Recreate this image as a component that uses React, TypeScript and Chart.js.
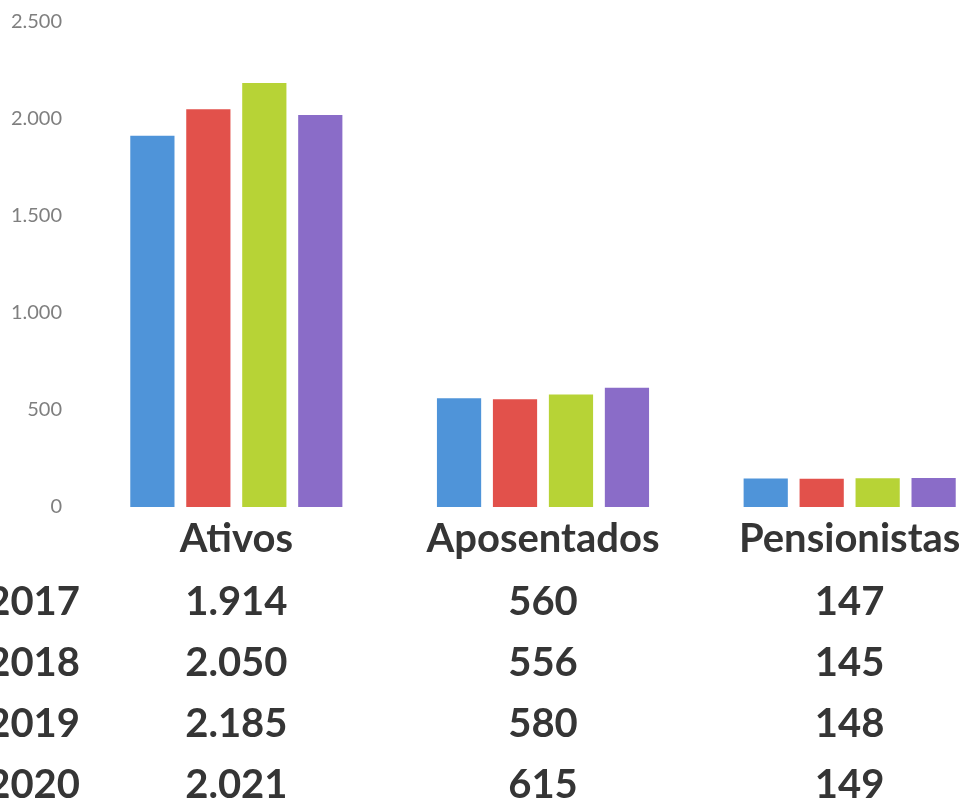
import React, { useEffect, useRef } from "react";
import { Chart, registerables } from "chart.js";

Chart.register(...registerables);

const categories = ["Ativos", "Aposentados", "Pensionistas"];
const years = ["2017", "2018", "2019", "2020"];
const values2017 = [1914, 560, 147];
const values2018 = [2050, 556, 145];
const values2019 = [2185, 580, 148];
const values2020 = [2021, 615, 149];
const seriesValues = [values2017, values2018, values2019, values2020];
const seriesColors = ["#4F94D9", "#E2514B", "#B7D336", "#8A6CC8"];
const yTicks = [0, 500, 1000, 1500, 2000, 2500];

const fmt = (v: number) => v.toLocaleString("pt-BR");

const dataTablePlugin = {
  id: "dataTable",
  afterDraw(chart: any) {
    const { ctx, chartArea } = chart;
    const x = chart.scales.x;
    ctx.save();
    ctx.fillStyle = "#353535";
    ctx.textBaseline = "middle";
    ctx.font = "bold 40px Lato";
    ctx.textAlign = "center";
    categories.forEach((c, i) => {
      ctx.fillText(c, x.getPixelForValue(i), chartArea.bottom + 32);
    });
    years.forEach((yr, r) => {
      const y = chartArea.bottom + 95 + r * 61;
      ctx.textAlign = "right";
      ctx.fillText(yr, chartArea.left - 3, y);
      ctx.textAlign = "center";
      seriesValues[r].forEach((v, i) => {
        ctx.fillText(fmt(v), x.getPixelForValue(i), y);
      });
    });
    ctx.restore();
  },
};

export default function App() {
  const ref = useRef<HTMLCanvasElement>(null);
  useEffect(() => {
    if (!ref.current) return;
    const chart = new Chart(ref.current, {
      type: "bar",
      data: {
        labels: categories,
        datasets: years.map((yr, i) => ({
          label: yr,
          data: seriesValues[i],
          backgroundColor: seriesColors[i],
          borderWidth: 0,
          categoryPercentage: 0.73,
          barPercentage: 0.79,
        })),
      },
      options: {
        responsive: false,
        animation: false,
        devicePixelRatio: 1,
        layout: { padding: { top: 22, right: 7, bottom: 294, left: 0 } },
        plugins: { legend: { display: false }, tooltip: { enabled: false } },
        scales: {
          x: { display: false },
          y: {
            min: 0,
            max: 2500,
            afterFit: (s: any) => {
              s.width = 83;
              s.paddingTop = 0;
              s.paddingBottom = 0;
            },
            afterBuildTicks: (s: any) => {
              s.ticks = yTicks.map((v) => ({ value: v }));
            },
            grid: { display: false, drawTicks: false },
            border: { display: false },
            ticks: {
              padding: 21,
              color: "#7f7f7f",
              font: { family: "Lato", size: 20 },
              callback: (v: any) => fmt(Number(v)),
            },
          },
        },
      },
      plugins: [dataTablePlugin],
    });
    return () => chart.destroy();
  }, []);
  return (
    <div
      style={{
        position: "fixed",
        left: 0,
        top: 0,
        width: 970,
        height: 801,
        overflow: "hidden",
        background: "#fff",
      }}
    >
      <canvas ref={ref} width={1010} height={801} style={{ width: 1010, height: 801, display: "block" }} />
    </div>
  );
}
